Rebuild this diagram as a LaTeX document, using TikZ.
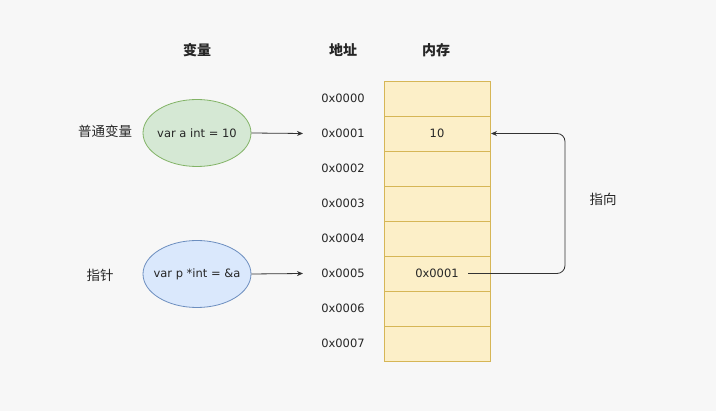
\documentclass[tikz,border=0pt]{standalone}
\usepackage{fontspec}
\setmainfont{DejaVu Sans}
\newfontfamily\cjk{Noto Sans CJK SC}
\usetikzlibrary{arrows.meta,shapes.geometric}
\definecolor{bgc}{HTML}{F7F7F7}
\definecolor{gfill}{HTML}{D5E8D4}
\definecolor{gdraw}{HTML}{82B366}
\definecolor{bfill}{HTML}{DAE8FC}
\definecolor{bdraw}{HTML}{6C8EBF}
\definecolor{yfill}{HTML}{FCEFC8}
\definecolor{ydraw}{HTML}{D6B656}
\definecolor{linec}{HTML}{333333}
\tikzset{
  txt/.style={font=\fontsize{11.5}{14}\selectfont, text=black!85, inner sep=0pt},
  head/.style={font=\cjk\bfseries\fontsize{14}{16}\selectfont, text=black!85, inner sep=0pt},
  cn/.style={font=\cjk\fontsize{13.5}{15}\selectfont, text=black!85, inner sep=0pt},
  cell/.style={draw=ydraw, fill=yfill, line width=0.8pt, minimum width=106pt, minimum height=35pt, inner sep=0pt, font=\fontsize{11.5}{14}\selectfont, text=black!85},
  varell/.style={ellipse, line width=0.8pt, minimum width=108pt, minimum height=67pt, inner xsep=-25pt, inner ysep=0pt, font=\fontsize{11.5}{14}\selectfont, text=black!85},
  conn/.style={draw=linec, line width=0.8pt, -{Stealth[length=6pt,width=5pt]}},
}
\begin{document}
\begin{tikzpicture}[x=1pt,y=-1pt]
\fill[bgc] (0,0) rectangle (716,411);
\useasboundingbox (0,0) rectangle (716,411);
% headers
\node[head] (h1) at (197,50) {变量};
\node[head] (h2) at (343,50) {地址};
\node[head] (h3) at (436,50) {内存};
% memory cells
\foreach \i/\v in {0/,1/10,2/,3/,4/,5/0x0001,6/,7/}{
  \node[cell] (c\i) at (437,98.5+35*\i) {\v};
  \node[txt] (a\i) at (343,98.5+35*\i) {0x000\i};
}
% ellipses
\node[varell, draw=gdraw, fill=gfill] (va) at (197,133) {var a int = 10};
\node[varell, draw=bdraw, fill=bfill] (vp) at (197,274) {var p *int = \&a};
\node[cn] (l1) at (105,131) {普通变量};
\node[cn] (l2) at (100,275) {指针};
\node[cn] (l3) at (603,199) {指向};
% arrows
\coordinate (e1) at (303,133.5);
\coordinate (e2) at (303,273.5);
\draw[conn] (va.east) -- (e1);
\draw[conn] (vp.east) -- (e2);
\coordinate (s) at (468,273.5);
\coordinate (t) at (491,133.5);
\draw[conn, rounded corners=8pt] (s) -- (565,273.5) -- (565,133.5) -- (t);
\end{tikzpicture}
\end{document}
